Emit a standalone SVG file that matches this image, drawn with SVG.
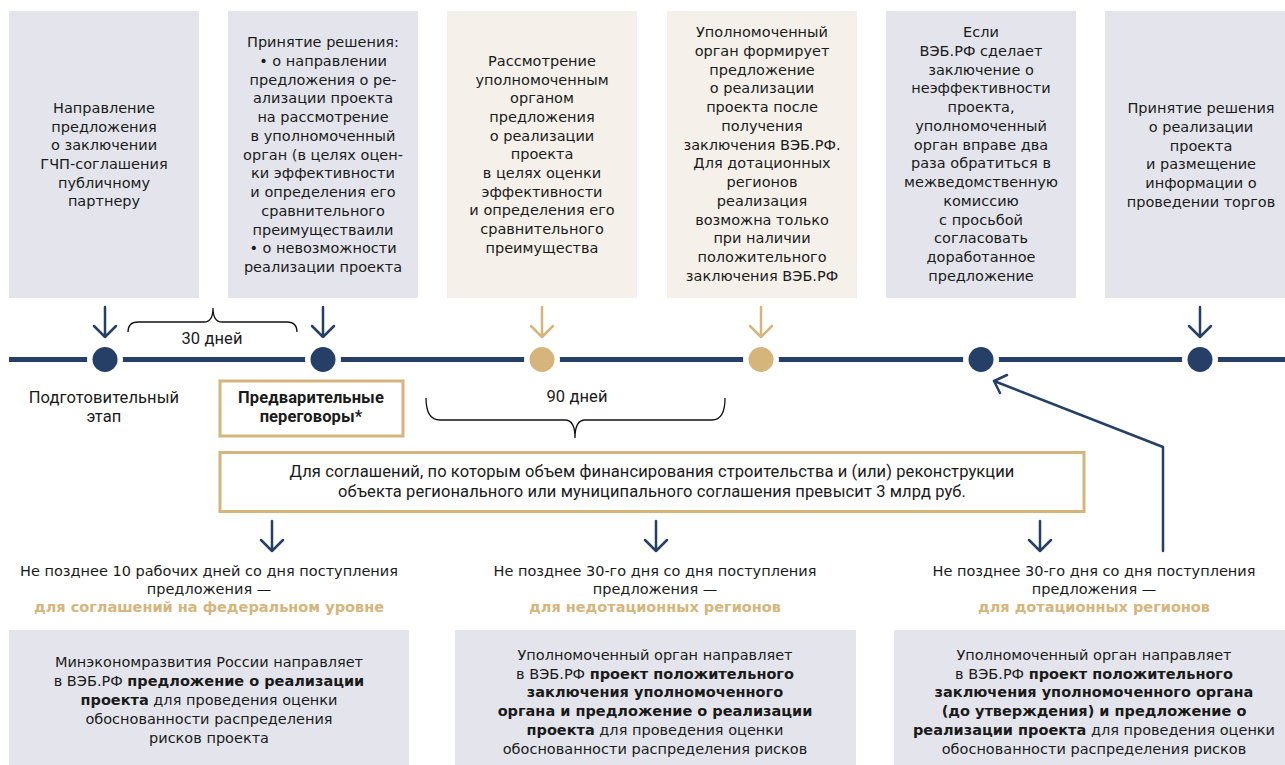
<svg xmlns="http://www.w3.org/2000/svg" width="1285" height="765" viewBox="0 0 1285 765">
<style>
.bg{fill:#ffffff}
.gray{fill:#e4e5ec}
.beige{fill:#f5f1ea}
.t{font-family:"DejaVu Sans","Noto Sans",sans-serif;font-size:14.5px;fill:#1a1a1a;text-anchor:middle}
.r{font-family:Roboto,"Liberation Sans",sans-serif;font-size:16.5px;letter-spacing:0.1px;fill:#1a1a1a;text-anchor:middle}
.b{font-weight:bold}
.gold{fill:#d5b57c}
.nav{stroke:#253f66;stroke-width:2.5;fill:none;stroke-linecap:round;stroke-linejoin:round}
.gar{stroke:#d5b57c;stroke-width:2.5;fill:none;stroke-linecap:round;stroke-linejoin:round}
.brace{stroke:#111;stroke-width:1.3;fill:none}
.goldbox{fill:#ffffff;stroke:#d5b57c;stroke-width:3}
.dotN{fill:#253f66;stroke:#ffffff;stroke-width:11;paint-order:stroke}
.dotG{fill:#d5b57c;stroke:#ffffff;stroke-width:11;paint-order:stroke}
</style>
<rect class="bg" x="0" y="0" width="1285" height="765"/>

<!-- top boxes -->
<g id="box1">
<rect class="gray" x="9" y="11" width="190" height="287"/>
<text class="t"><tspan x="104" y="113">Направление</tspan><tspan x="104" y="132">предложения</tspan><tspan x="104" y="150">о заключении</tspan><tspan x="104" y="169">ГЧП-соглашения</tspan><tspan x="104" y="188">публичному</tspan><tspan x="104" y="206">партнеру</tspan></text>
</g>
<g id="box2">
<rect class="gray" x="228" y="11" width="190" height="287"/>
<text class="t"><tspan x="323" y="47">Принятие решения:</tspan><tspan x="323" y="65.7">• о направлении</tspan><tspan x="323" y="84.5">предложения о ре-</tspan><tspan x="323" y="103.2">ализации проекта</tspan><tspan x="323" y="122">на рассмотрение</tspan><tspan x="323" y="140.7">в уполномоченный</tspan><tspan x="323" y="159.5">орган (в целях оцен-</tspan><tspan x="323" y="178.2">ки эффективности</tspan><tspan x="323" y="197">и определения его</tspan><tspan x="323" y="215.7">сравнительного</tspan><tspan x="323" y="234.5">преимуществаили</tspan><tspan x="323" y="253.2">• о невозможности</tspan><tspan x="323" y="272">реализации проекта</tspan></text>
</g>
<g id="box3">
<rect class="beige" x="447" y="11" width="190" height="287"/>
<text class="t"><tspan x="542" y="66">Рассмотрение</tspan><tspan x="542" y="84.7">уполномоченным</tspan><tspan x="542" y="103.3">органом</tspan><tspan x="542" y="122">предложения</tspan><tspan x="542" y="140.6">о реализации</tspan><tspan x="542" y="159.3">проекта</tspan><tspan x="542" y="178">в целях оценки</tspan><tspan x="542" y="196.6">эффективности</tspan><tspan x="542" y="215.2">и определения его</tspan><tspan x="542" y="234">сравнительного</tspan><tspan x="542" y="252.5">преимущества</tspan></text>
</g>
<g id="box4">
<rect class="beige" x="667" y="11" width="190" height="287"/>
<text class="t"><tspan x="762" y="37">Уполномоченный</tspan><tspan x="762" y="55.7">орган формирует</tspan><tspan x="762" y="74.5">предложение</tspan><tspan x="762" y="93.2">о реализации</tspan><tspan x="762" y="112">проекта после</tspan><tspan x="762" y="130.7">получения</tspan><tspan x="762" y="149.5">заключения ВЭБ.РФ.</tspan><tspan x="762" y="168.2">Для дотационных</tspan><tspan x="762" y="187">регионов</tspan><tspan x="762" y="205.7">реализация</tspan><tspan x="762" y="224.5">возможна только</tspan><tspan x="762" y="243.2">при наличии</tspan><tspan x="762" y="262">положительного</tspan><tspan x="762" y="280.7">заключения ВЭБ.РФ</tspan></text>
</g>
<g id="box5">
<rect class="gray" x="886" y="11" width="190" height="287"/>
<text class="t"><tspan x="981" y="37">Если</tspan><tspan x="981" y="55.7">ВЭБ.РФ сделает</tspan><tspan x="981" y="74.5">заключение о</tspan><tspan x="981" y="93.2">неэффективности</tspan><tspan x="981" y="112">проекта,</tspan><tspan x="981" y="130.7">уполномоченный</tspan><tspan x="981" y="149.5">орган вправе два</tspan><tspan x="981" y="168.2">раза обратиться в</tspan><tspan x="981" y="187">межведомственную</tspan><tspan x="981" y="205.7">комиссию</tspan><tspan x="981" y="224.5">с просьбой</tspan><tspan x="981" y="243.2">согласовать</tspan><tspan x="981" y="262">доработанное</tspan><tspan x="981" y="280.7">предложение</tspan></text>
</g>
<g id="box6">
<rect class="gray" x="1105" y="11" width="190" height="287"/>
<text class="t"><tspan x="1201" y="113">Принятие решения</tspan><tspan x="1201" y="131.8">о реализации</tspan><tspan x="1201" y="150.6">проекта</tspan><tspan x="1201" y="169.4">и размещение</tspan><tspan x="1201" y="188.2">информации о</tspan><tspan x="1201" y="207">проведении торгов</tspan></text>
</g>

<!-- timeline -->
<g id="timeline">
<line x1="9" y1="359.5" x2="1285" y2="359.5" stroke="#253f66" stroke-width="5"/>
<circle class="dotN" cx="105" cy="359.5" r="12.5"/>
<circle class="dotN" cx="323" cy="359.5" r="12.5"/>
<circle class="dotG" cx="542" cy="359.5" r="12.5"/>
<circle class="dotG" cx="761" cy="359.5" r="12.5"/>
<circle class="dotN" cx="981" cy="359.5" r="12.5"/>
<circle class="dotN" cx="1200" cy="359.5" r="12.5"/>
</g>

<g id="annotations">
<path class="brace" d="M128,332 Q128,322 138,322 L204,322 Q213,322 213,308 Q213,322 222,322 L287,322 Q297,322 297,332"/>
<text class="r" x="212" y="344">30 дней</text>
<path class="brace" d="M426,398 Q426,420 440,420 L565,420 Q575,420 575,438 Q575,420 585,420 L712,420 Q725,420 725,398"/>
<text class="r" x="577" y="402">90 дней</text>
<text class="r"><tspan x="104" y="402.5">Подготовительный</tspan><tspan x="104" y="422">этап</tspan></text>
</g>

<g id="prelim">
<rect class="goldbox" x="220" y="381" width="183" height="55"/>
<text class="r b"><tspan x="311" y="402.5">Предварительные</tspan><tspan x="311" y="422">переговоры*</tspan></text>
</g>

<g id="condition">
<rect class="goldbox" x="220" y="452.5" width="864" height="59"/>
<text class="r"><tspan x="652" y="477">Для соглашений, по которым объем финансирования строительства и (или) реконструкции</tspan><tspan x="652" y="497">объекта регионального или муниципального соглашения превысит 3 млрд руб.</tspan></text>
</g>

<g id="connectors">
<path class="nav" d="M105,307 V337 M94,326 L105,337 L116,326"/>
<path class="nav" d="M323,307 V337 M312,326 L323,337 L334,326"/>
<path class="gar" d="M542,307 V337 M531,326 L542,337 L553,326"/>
<path class="gar" d="M761,307 V337 M750,326 L761,337 L772,326"/>
<path class="nav" d="M1200,307 V337 M1189,326 L1200,337 L1211,326"/>
<path class="nav" d="M272,521 V551 M261,540 L272,551 L283,540"/>
<path class="nav" d="M656,521 V551 M645,540 L656,551 L667,540"/>
<path class="nav" d="M1040,521 V551 M1029,540 L1040,551 L1051,540"/>
<path class="nav" d="M1163,551 V447 L994,381 M1007,375 L994,381 L1000,393"/>
</g>

<g id="label1">
<text class="t"><tspan x="209" y="576">Не позднее 10 рабочих дней со дня поступления</tspan><tspan x="209" y="594">предложения —</tspan><tspan x="209" y="612" class="b gold">для соглашений на федеральном уровне</tspan></text>
</g>
<g id="label2">
<text class="t"><tspan x="655" y="576">Не позднее 30-го дня со дня поступления</tspan><tspan x="655" y="594">предложения —</tspan><tspan x="655" y="612" class="b gold">для недотационных регионов</tspan></text>
</g>
<g id="label3">
<text class="t"><tspan x="1094" y="576">Не позднее 30-го дня со дня поступления</tspan><tspan x="1094" y="594">предложения —</tspan><tspan x="1094" y="612" class="b gold">для дотационных регионов</tspan></text>
</g>

<g id="bottom1">
<rect class="gray" x="9" y="630" width="400" height="140"/>
<text class="t"><tspan x="209" y="667">Минэкономразвития России направляет</tspan><tspan x="209" y="686">в ВЭБ.РФ <tspan class="b">предложение о реализации</tspan></tspan><tspan x="209" y="705"><tspan class="b">проекта</tspan> для проведения оценки</tspan><tspan x="209" y="724">обоснованности распределения</tspan><tspan x="209" y="743">рисков проекта</tspan></text>
</g>
<g id="bottom2">
<rect class="gray" x="455" y="630" width="401" height="140"/>
<text class="t"><tspan x="655" y="660">Уполномоченный орган направляет</tspan><tspan x="655" y="678.7">в ВЭБ.РФ <tspan class="b">проект положительного</tspan></tspan><tspan x="655" y="697.4" class="b">заключения уполномоченного</tspan><tspan x="655" y="716.1" class="b">органа и предложение о реализации</tspan><tspan x="655" y="734.8"><tspan class="b">проекта</tspan> для проведения оценки</tspan><tspan x="655" y="753.5">обоснованности распределения рисков</tspan></text>
</g>
<g id="bottom3">
<rect class="gray" x="894" y="630" width="400" height="140"/>
<text class="t"><tspan x="1094" y="660">Уполномоченный орган направляет</tspan><tspan x="1094" y="678.7">в ВЭБ.РФ <tspan class="b">проект положительного</tspan></tspan><tspan x="1094" y="697.4" class="b">заключения уполномоченного органа</tspan><tspan x="1094" y="716.1" class="b">(до утверждения) и предложение о</tspan><tspan x="1094" y="734.8"><tspan class="b">реализации проекта</tspan> для проведения оценки</tspan><tspan x="1094" y="753.5">обоснованности распределения рисков</tspan></text>
</g>
</svg>
